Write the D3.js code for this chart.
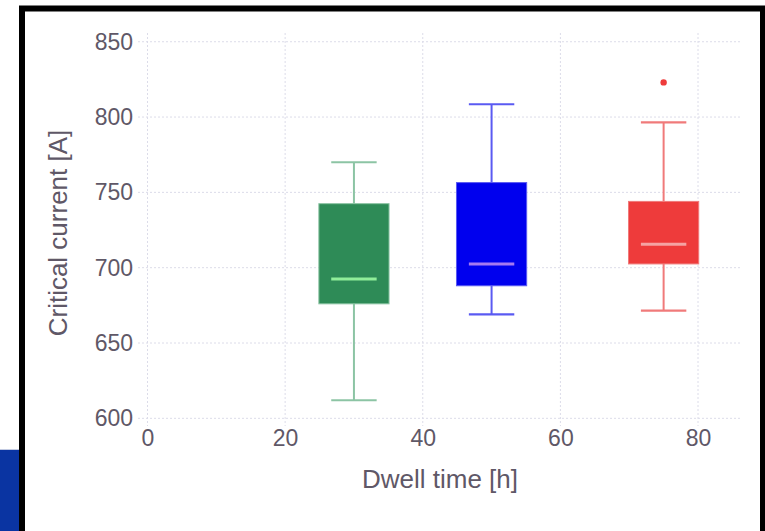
<!DOCTYPE html>
<html>
<head>
<meta charset="utf-8">
<script src="https://cdn.jsdelivr.net/npm/d3@7"></script>
<style>
  html, body { margin: 0; padding: 0; background: #fff; }
  svg { display: block; }
  text { font-family: "Liberation Sans", Arial, Helvetica, sans-serif; fill: #5f5867; }
</style>
</head>
<body>
<svg id="chart" width="765" height="531"></svg>
<script>
// Box-plot summary per dwell time
const dwellTime   = [30, 50, 75];
const whiskerLow  = [612, 669, 671.5];
const quartile1   = [676, 688, 702.5];
const medianValue = [692.5, 702.5, 715.5];
const quartile3   = [742.5, 756.5, 744];
const whiskerHigh = [770, 808.5, 796.5];
const outliers    = [[], [], [823]];

const xTicks = [0, 20, 40, 60, 80];
const yTicks = [600, 650, 700, 750, 800, 850];

// colour scheme per group
const fillColor    = ["#2e8b57", "#0000ee", "#ee3b3b"];
const lineColor    = ["#8cc4a4", "#5a5af2", "#f07a7a"];
const medianColor  = ["#90ee9a", "#a57af0", "#f5a3a3"];

const svg = d3.select("#chart");
const W = 765, H = 531;

// page decoration: frame and corner band
svg.append("rect").attr("x", 0).attr("y", 449).attr("width", 19).attr("height", H - 449).attr("fill", "#0a34a2");
svg.append("line").attr("x1", 0).attr("x2", 19).attr("y1", 449.5).attr("y2", 449.5).attr("stroke", "#c3cbe2").attr("stroke-width", 1);
svg.append("path")
  .attr("d", `M22,${H} L22,8.5 L763,8.5 L763,${H}`)
  .attr("fill", "none").attr("stroke", "#000").attr("stroke-width", 6);

const plotLeft = 138, plotRight = 740, plotTop = 33, plotBottom = 426;
const x = d3.scaleLinear().domain([-1.38, 86.1]).range([plotLeft, plotRight]);
const y = d3.scaleLinear().domain([594.9, 855.8]).range([plotBottom, plotTop]);

// grid
const grid = svg.append("g");
grid.selectAll(".gx").data(xTicks).join("line")
  .attr("x1", d => x(d)).attr("x2", d => x(d))
  .attr("y1", plotTop).attr("y2", plotBottom)
  .attr("stroke", "#dcdce9").attr("stroke-width", 1).attr("stroke-dasharray", "2,2");
grid.selectAll(".gy").data(yTicks).join("line")
  .attr("x1", plotLeft).attr("x2", plotRight)
  .attr("y1", d => y(d)).attr("y2", d => y(d))
  .attr("stroke", "#dcdce9").attr("stroke-width", 1).attr("stroke-dasharray", "2,2");

// axes (labels only)
const xAxis = svg.append("g").attr("transform", `translate(0,${plotBottom})`)
  .call(d3.axisBottom(x).tickValues(xTicks).tickSize(0).tickPadding(4));
xAxis.select(".domain").remove();
xAxis.selectAll("text").style("font-size", "23px").attr("fill", "#5f5867");

const yAxis = svg.append("g").attr("transform", `translate(${plotLeft},0)`)
  .call(d3.axisLeft(y).tickValues(yTicks).tickSize(0).tickPadding(5));
yAxis.select(".domain").remove();
yAxis.selectAll("text").style("font-size", "23px").attr("fill", "#5f5867");

// axis titles
svg.append("text").attr("x", 440).attr("y", 488).attr("text-anchor", "middle")
  .style("font-size", "26px").text("Dwell time [h]");
svg.append("text").attr("transform", "translate(67,233) rotate(-90)").attr("text-anchor", "middle")
  .style("font-size", "26px").text("Critical current [A]");

// boxes
const boxW = 10.2, capW = 6.6;
const g = svg.append("g");

dwellTime.forEach((t, i) => {
  const gg = g.append("g");
  // whiskers
  gg.append("line").attr("x1", x(t)).attr("x2", x(t)).attr("y1", y(whiskerHigh[i])).attr("y2", y(quartile3[i]))
    .attr("stroke", lineColor[i]).attr("stroke-width", 2);
  gg.append("line").attr("x1", x(t)).attr("x2", x(t)).attr("y1", y(quartile1[i])).attr("y2", y(whiskerLow[i]))
    .attr("stroke", lineColor[i]).attr("stroke-width", 2);
  [whiskerHigh[i], whiskerLow[i]].forEach(v => {
    gg.append("line").attr("x1", x(t - capW / 2)).attr("x2", x(t + capW / 2))
      .attr("y1", y(v)).attr("y2", y(v))
      .attr("stroke", lineColor[i]).attr("stroke-width", 2.2);
  });
  // box
  gg.append("rect")
    .attr("x", x(t - boxW / 2)).attr("width", x(t + boxW / 2) - x(t - boxW / 2))
    .attr("y", y(quartile3[i])).attr("height", y(quartile1[i]) - y(quartile3[i]))
    .attr("fill", fillColor[i]).attr("stroke", lineColor[i]).attr("stroke-width", 1);
  // median
  gg.append("line").attr("x1", x(t - capW / 2)).attr("x2", x(t + capW / 2))
    .attr("y1", y(medianValue[i])).attr("y2", y(medianValue[i]))
    .attr("stroke", medianColor[i]).attr("stroke-width", 3);
  // outliers
  gg.selectAll("circle").data(outliers[i]).join("circle")
    .attr("cx", x(t)).attr("cy", d => y(d)).attr("r", 3.2)
    .attr("fill", fillColor[i]);
});
</script>
</body>
</html>
